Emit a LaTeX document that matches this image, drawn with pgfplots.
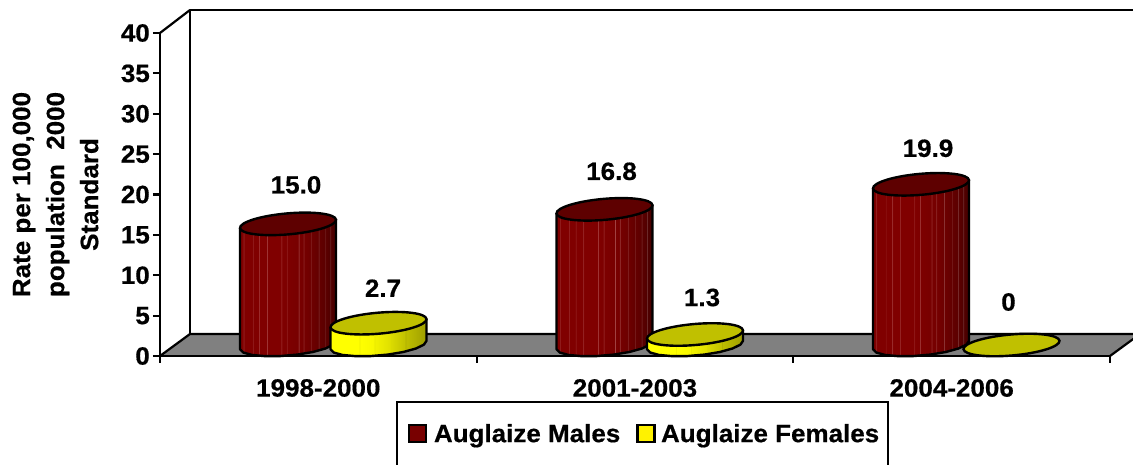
\documentclass[border=0pt]{standalone}
\usepackage{pgfplots}
\pgfplotsset{compat=1.18}
\usepackage{fontspec}
\setmainfont[FakeStretch=1.04,BoldFeatures={FakeBold=0.55}]{Liberation Sans}
\newcommand\lf{\fontsize{25}{34}\selectfont\bfseries}
\definecolor{capred}{HTML}{5E0000}
\definecolor{capyel}{HTML}{C0C000}
\definecolor{floorgray}{HTML}{808080}
\definecolor{swred}{HTML}{780000}
\pgfdeclarehorizontalshading{redcyl}{100bp}{
rgb(0bp)=(.5,0,0); rgb(26.5bp)=(.5,0,0); rgb(26.75bp)=(.68,.3,.3); rgb(27bp)=(.5,0,0);
rgb(31.25bp)=(.5,0,0); rgb(31.5bp)=(.68,.3,.3); rgb(31.75bp)=(.5,0,0);
rgb(34.75bp)=(.5,0,0); rgb(35bp)=(.66,.26,.26); rgb(35.25bp)=(.5,0,0);
rgb(38.75bp)=(.5,0,0); rgb(39bp)=(.68,.3,.3); rgb(39.25bp)=(.5,0,0);
rgb(46.25bp)=(.5,0,0); rgb(46.5bp)=(.68,.3,.3); rgb(46.75bp)=(.5,0,0);
rgb(49.25bp)=(.49,0,0); rgb(49.5bp)=(.66,.28,.28); rgb(49.75bp)=(.49,0,0);
rgb(55.25bp)=(.47,0,0); rgb(55.5bp)=(.66,.3,.3); rgb(55.75bp)=(.47,0,0);
rgb(57.75bp)=(.46,0,0); rgb(58bp)=(.64,.3,.3); rgb(58.25bp)=(.46,0,0);
rgb(61.75bp)=(.43,0,0); rgb(62bp)=(.6,.3,.3); rgb(62.25bp)=(.43,0,0);
rgb(65.75bp)=(.39,0,0); rgb(66bp)=(.56,.28,.28); rgb(66.25bp)=(.39,0,0);
rgb(69bp)=(.36,0,0); rgb(69.25bp)=(.52,.26,.26); rgb(69.5bp)=(.36,0,0);
rgb(71.75bp)=(.32,0,0); rgb(72bp)=(.48,.26,.26); rgb(72.25bp)=(.32,0,0);
rgb(75bp)=(.26,0,0); rgb(100bp)=(.26,0,0)}
\pgfdeclarehorizontalshading{yelcyl}{100bp}{
rgb(0bp)=(1,1,0); rgb(40bp)=(1,1,0); rgb(40.2bp)=(.9,.9,0); rgb(40.4bp)=(1,1,0);
rgb(47.8bp)=(.97,.97,0); rgb(48bp)=(.88,.88,0); rgb(48.2bp)=(.95,.95,0);
rgb(55.8bp)=(.88,.88,0); rgb(56bp)=(.8,.8,0); rgb(56.2bp)=(.86,.86,0);
rgb(63.8bp)=(.76,.76,0); rgb(64bp)=(.68,.68,0); rgb(64.2bp)=(.75,.75,0);
rgb(75bp)=(.62,.62,0); rgb(100bp)=(.62,.62,0)}
\newcommand\capellipse{%
\pgfsetlinewidth{2.4pt}\pgfsetstrokecolor{black}%
\pgfpathmoveto{\pgfqpoint{48pt}{4.2pt}}%
\pgfpathcurveto{\pgfqpoint{47.5pt}{9.98pt}}{\pgfqpoint{25.6pt}{12.78pt}}{\pgfqpoint{-.9pt}{10.46pt}}%
\pgfpathcurveto{\pgfqpoint{-27.4pt}{8.14pt}}{\pgfqpoint{-48.5pt}{1.58pt}}{\pgfqpoint{-48pt}{-4.2pt}}%
\pgfpathcurveto{\pgfqpoint{-47.5pt}{-9.98pt}}{\pgfqpoint{-25.6pt}{-12.78pt}}{\pgfqpoint{.9pt}{-10.46pt}}%
\pgfpathcurveto{\pgfqpoint{27.4pt}{-8.14pt}}{\pgfqpoint{48.5pt}{-1.58pt}}{\pgfqpoint{48pt}{4.2pt}}%
\pgfpathclose\pgfusepath{fill,stroke}}
\pgfdeclareplotmark{captopred}{\pgfsetfillcolor{capred}\capellipse}
\pgfdeclareplotmark{captopyel}{\pgfsetfillcolor{capyel}\capellipse}
\pgfplotsset{
  cyl/.style={draw=black,line width=2.4pt,line join=round,no markers,forget plot,shading=#1},
  valstyle/.style 2 args={only marks,every node near coord/.append style={anchor=center,font=\lf,text=black,xshift=#1,yshift=#2}},
}
\begin{document}
\begin{tikzpicture}[x=1pt,y=1pt]
\useasboundingbox (0,0) rectangle (1133,465);
% floor and walls
\fill[floorgray] (160,109) -- (190,131) -- (1140,131) -- (1110,109) -- cycle;
\draw[black,line width=2.2pt,line join=round] (160,109) -- (190,131) -- (1140,131);
\draw[black,line width=2.2pt] (1110,109) -- (1140,131);
\draw[black,line width=2.2pt,line join=round] (190,131) -- (190,455) -- (1140,455);
\draw[black,line width=2.2pt] (160,432) -- (190,455);
% legend frame
\draw[black,line width=2.2pt] (397,-20) -- (397,63) -- (888,63) -- (888,-20);
\begin{axis}[
  at={(160pt,109pt)},anchor=origin,
  scale only axis,width=950pt,height=323pt,
  xmin=0,xmax=3,ymin=0,ymax=40,
  axis x line*=bottom,axis y line*=left,
  axis line style={black,line width=2.2pt,-},
  tick align=outside,
  xtick={0.5,1.5,2.5},
  xticklabels={1998-2000,2001-2003,2004-2006},
  major x tick style={draw=none},
  minor xtick={0,1,2,3},
  minor tick length=7pt,
  minor x tick style={black,line width=2.2pt},
  ytick={0,5,...,40},
  major tick length=7pt,
  ytick style={black,line width=2.2pt},
  tick label style={font=\lf,text=black},
  /pgf/number format/assume math mode=true,
  yticklabel style={inner sep=0pt,xshift=-3pt},
  xticklabel style={inner sep=0pt,anchor=center,yshift=-25pt},
  ylabel={Rate per 100,000\\population\ \ 2000\\Standard},
  ylabel style={at={(axis description cs:-0.11,0.5)},anchor=center,align=center,font=\lf,text=black},
  clip=false,
  legend columns=2,
  legend cell align=left,
  legend style={at={(0.5092,-0.241)},anchor=center,draw=none,fill=none,inner sep=0pt,
    nodes={inner sep=0pt,font=\lf,text=black},
    /tikz/column 1/.style={column sep=6.5pt},
    /tikz/column 2/.style={column sep=16pt},
    /tikz/column 3/.style={column sep=5.5pt}},
]
\addlegendimage{legend image code/.code={\draw[black,line width=2.2pt,fill=swred] (0pt,-8.5pt) rectangle (17pt,8.5pt);}}
\addlegendentry{Auglaize Males}
\addlegendimage{legend image code/.code={\draw[black,line width=2.2pt,fill=yellow] (0pt,-8.5pt) rectangle (17pt,8.5pt);}}
\addlegendentry{Auglaize Females}
\end{axis}
\begin{axis}[
  at={(160pt,120pt)},anchor=origin,
  scale only axis,width=950pt,height=323pt,
  xmin=0,xmax=950,ymin=0,ymax=40,
  hide axis,clip=false,
]
% 1998-2000 males
\addplot[cyl=redcyl] coordinates {(80,14.48)(80,-0.52)(83.2,-0.93)(91.8,-1.23)(104.8,-1.38)(120.55,-1.37)(137.2,-1.19)(152.8,-0.87)(165.35,-0.44)(173.4,0.04)(176,0.52)(176,15.52)};
\addplot[mark=captopred,valstyle={8pt}{39pt},nodes near coords={15.0}] coordinates {(128,15.0)};
% 1998-2000 females
\addplot[cyl=yelcyl] coordinates {(170.5,2.18)(170.5,-0.52)(173.7,-0.93)(182.3,-1.23)(195.3,-1.38)(211.05,-1.37)(227.7,-1.19)(243.3,-0.87)(255.85,-0.44)(263.9,0.04)(266.5,0.52)(266.5,3.22)};
\addplot[mark=captopyel,valstyle={4.5pt}{35pt},nodes near coords={2.7}] coordinates {(218.5,2.7)};
% 2001-2003 males
\addplot[cyl=redcyl] coordinates {(396.5,16.28)(396.5,-0.52)(399.7,-0.93)(408.3,-1.23)(421.3,-1.38)(437.05,-1.37)(453.7,-1.19)(469.3,-0.87)(481.85,-0.44)(489.9,0.04)(492.5,0.52)(492.5,17.32)};
\addplot[mark=captopred,valstyle={7pt}{38pt},nodes near coords={16.8}] coordinates {(444.5,16.8)};
% 2001-2003 females
\addplot[cyl=yelcyl] coordinates {(487,0.78)(487,-0.52)(490.2,-0.93)(498.8,-1.23)(511.8,-1.38)(527.55,-1.37)(544.2,-1.19)(559.8,-0.87)(572.35,-0.44)(580.4,0.04)(583,0.52)(583,1.82)};
\addplot[mark=captopyel,valstyle={7pt}{37pt},nodes near coords={1.3}] coordinates {(535,1.3)};
% 2004-2006 males
\addplot[cyl=redcyl] coordinates {(713,19.38)(713,-0.52)(716.2,-0.93)(724.8,-1.23)(737.8,-1.38)(753.55,-1.37)(770.2,-1.19)(785.8,-0.87)(798.35,-0.44)(806.4,0.04)(809,0.52)(809,20.42)};
\addplot[mark=captopred,valstyle={7pt}{36pt},nodes near coords={19.9}] coordinates {(761,19.9)};
% 2004-2006 females
\addplot[mark=captopyel,valstyle={-3pt}{43pt},nodes near coords={0}] coordinates {(851.5,0)};
\end{axis}
\end{tikzpicture}
\end{document}
